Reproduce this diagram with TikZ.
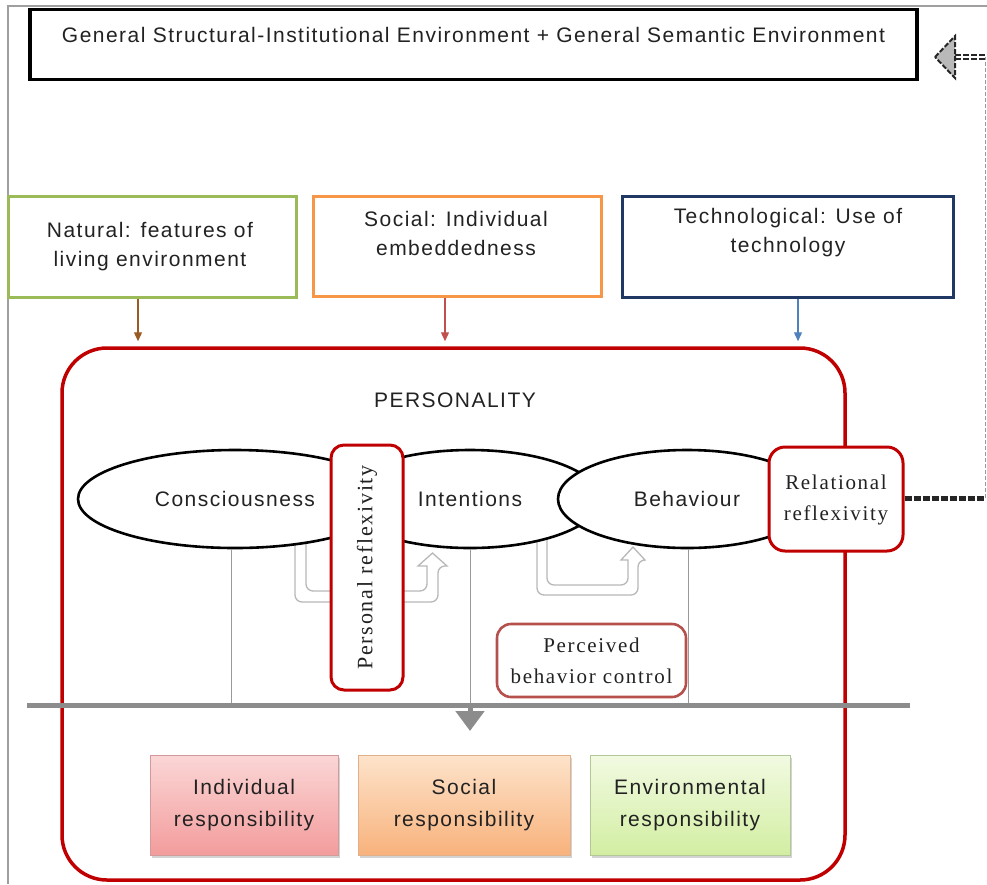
\documentclass[tikz,border=0pt]{standalone}
\usepackage{fontspec}
\setmainfont{Liberation Sans}[LetterSpace=7]
\newfontfamily\seriffont{Liberation Serif}[LetterSpace=8]
\usetikzlibrary{arrows.meta,shapes.geometric,shadows,calc}
\definecolor{natgreen}{HTML}{9BBB59}
\definecolor{socorange}{HTML}{F79646}
\definecolor{technavy}{HTML}{1F3864}
\definecolor{persred}{HTML}{C00000}
\definecolor{pbcred}{HTML}{B5504C}
\definecolor{arrbrown}{HTML}{9A5B22}
\definecolor{arrred}{HTML}{C0504D}
\definecolor{arrblue}{HTML}{4F81BD}
\definecolor{txtgray}{HTML}{222222}
\definecolor{barGray}{HTML}{8C8C8C}
\definecolor{uGray}{HTML}{B8B8B8}
\definecolor{indTop}{HTML}{FBD6D6}
\definecolor{indBot}{HTML}{F39C9C}
\definecolor{indLine}{HTML}{D29A9A}
\definecolor{socTop}{HTML}{FDE3CA}
\definecolor{socBot}{HTML}{F8B27C}
\definecolor{socLine}{HTML}{E0B08A}
\definecolor{envTop}{HTML}{F2FAE2}
\definecolor{envBot}{HTML}{D2EEA2}
\definecolor{envLine}{HTML}{B2C896}
\begin{document}
\begin{tikzpicture}[x=1pt,y=-1pt,
  txt/.style={text=txtgray,font=\fontsize{21}{29}\selectfont,align=center,inner sep=0},
  stxt/.style={text=txtgray,font=\seriffont\fontsize{21}{31}\selectfont,align=center,inner sep=0},
  envbox/.style={draw,line width=3pt,inner sep=0,fill=white},
  ell/.style={ellipse,draw=black,line width=2.6pt,fill=white,inner sep=0,minimum height=98pt,
    text=txtgray,font=\fontsize{21}{26}\selectfont},
  refbox/.style={draw=persred,line width=3pt,fill=white,rounded corners=13pt,inner sep=0},
  smallarr/.style={line width=1.3pt,-{Triangle[length=9pt,width=8pt]}},
  vline/.style={draw=gray!80,line width=0.9pt},
  uarrow/.style={draw=uGray,line width=1.3pt,fill=white,rounded corners=7pt},
  respbox/.style={draw,line width=1pt,inner sep=0,minimum width=188pt,minimum height=100pt,
    drop shadow={shadow xshift=2pt,shadow yshift=-3pt,opacity=0.35},
    text=txtgray,font=\fontsize{21}{32}\selectfont,align=center}
]
\useasboundingbox (0,0) rectangle (987,884);
% frame lines
\coordinate (frTL) at (8,6);
\coordinate (frTR) at (987,6);
\coordinate (frBL) at (8,884);
\draw[gray!75,line width=1.4pt] (frBL) -- (frTL) -- (frTR);

% top box
\node[draw=black,line width=3.5pt,minimum width=887pt,minimum height=70pt,inner sep=0,fill=white] (topbox) at (473.5,44.5) {};
\node[txt] (toptext) at (473.5,35) {General Structural-Institutional Environment + General Semantic Environment};

% three environment boxes
\node[envbox,draw=natgreen,minimum width=288pt,minimum height=101pt] (natural) at (152,246.5) {};
\node[envbox,draw=socorange,minimum width=288pt,minimum height=100pt] (social) at (457,246) {};
\node[envbox,draw=technavy,minimum width=331pt,minimum height=101pt] (tech) at (787.5,246.5) {};
\node[txt] (naturaltxt) at (150,247) {Natural: features of\\living environment};
\node[txt] (socialtxt) at (456,233) {Social: Individual\\embeddedness};
\node[txt] (techtxt) at (788,233) {Technological: Use of\\technology};

% personality frame
\node[draw=persred,line width=3.5pt,rounded corners=45pt,minimum width=783pt,minimum height=532pt,inner sep=0] (pers) at (453.5,614) {};
\node[txt] (perstitle) at (455,400) {PERSONALITY};

% arrows from environment boxes
\coordinate (ax1) at (138,0);
\coordinate (ax2) at (445,0);
\coordinate (ax3) at (798,0);
\draw[smallarr,arrbrown,shorten >=5pt] (natural.south -| ax1) -- (pers.north -| ax1);
\draw[smallarr,arrred,shorten >=5pt] (social.south -| ax2) -- (pers.north -| ax2);
\draw[smallarr,arrblue,shorten >=5pt] (tech.south -| ax3) -- (pers.north -| ax3);

% hollow U arrows
\draw[uarrow] (295,540) -- (295,602) -- (438,602) -- (438,566) [rounded corners=0pt] -- (447,566) -- (432.5,553) -- (418,566) -- (427,566) [rounded corners=7pt] -- (427,591) -- (306,591) -- (306,540);
\draw[uarrow] (537,530) -- (537,595) -- (638,595) -- (638,560) [rounded corners=0pt] -- (645,560) -- (633,547) -- (621,560) -- (628,560) [rounded corners=7pt] -- (628,585) -- (547,585) -- (547,530);

% horizontal bar coordinates
\coordinate (hbL) at (27,705);
\coordinate (hbR) at (910,705);
\coordinate (lx1) at (231,0);
\coordinate (lx2) at (470,0);
\coordinate (lx3) at (688,0);

% ellipses
\node[ell,minimum width=314pt] (cons) at (235,499) {Consciousness};
\node[ell,minimum width=260pt] (intent) at (470,499) {Intentions};
\node[ell,minimum width=258pt] (behav) at (687,499) {Behaviour};

% vertical gray lines
\draw[vline] (cons.south -| lx1) -- (hbL -| lx1);
\draw[vline] (intent.south -| lx2) -- (hbL -| lx2);
\draw[vline] (behav.south -| lx3) -- (hbL -| lx3);

% reflexivity boxes
\node[refbox,minimum width=72pt,minimum height=245pt] (persref) at (367,567.5) {};
\node[stxt,rotate=90,font=\seriffont\fontsize{22}{26}\selectfont] (persreftxt) at (367,567.5) {Personal reflexivity};
\node[refbox,minimum width=134pt,minimum height=104pt,rounded corners=16pt] (relref) at (836,499) {};
\node[stxt] (relreftxt) at (836,500) {Relational\\reflexivity};
\node[refbox,draw=pbcred,line width=2.6pt,minimum width=189pt,minimum height=73pt,rounded corners=14pt] (pbc) at (591.5,660.5) {};
\node[stxt] (pbctxt) at (591.5,661) {Perceived\\behavior control};

% bar and arrow
\draw[barGray,line width=5pt] (hbL) -- (hbR);
\coordinate (downtip) at (470,731);
\draw[barGray,line width=5pt,-{Triangle[length=20pt,width=28pt]}] (hbL -| lx2) -- (downtip);

% dashed feedback connector
\coordinate (dc1) at (985,498);
\coordinate (dc2) at (985,57);
\coordinate (dhead) at (955,57);
\coordinate (dtip) at (935,57);
\draw[black!85,line width=5pt,dash pattern=on 7pt off 2pt] (relref.east |- dc1) -- (dc1);
\draw[gray!80,line width=0.8pt,dash pattern=on 4pt off 2pt] (dc1) -- (dc2);
\draw[black!85,line width=1.6pt,double=white,double distance=2pt,dash pattern=on 6pt off 2pt] (dc2) -- (dhead);
\draw[black!85,line width=2pt,fill=gray!55,dash pattern=on 5pt off 2pt] (dtip) -- ($(dhead)+(0,-21)$) -- ($(dhead)+(0,21)$) -- cycle;

% responsibility boxes
\node[respbox,draw=indLine,top color=indTop,bottom color=indBot] (indresp) at (244,805) {Individual\\responsibility};
\node[respbox,draw=socLine,top color=socTop,bottom color=socBot,minimum width=212pt] (socresp) at (464,805) {Social\\responsibility};
\node[respbox,draw=envLine,top color=envTop,bottom color=envBot,minimum width=200pt] (envresp) at (690,805) {Environmental\\responsibility};
\end{tikzpicture}
\end{document}
